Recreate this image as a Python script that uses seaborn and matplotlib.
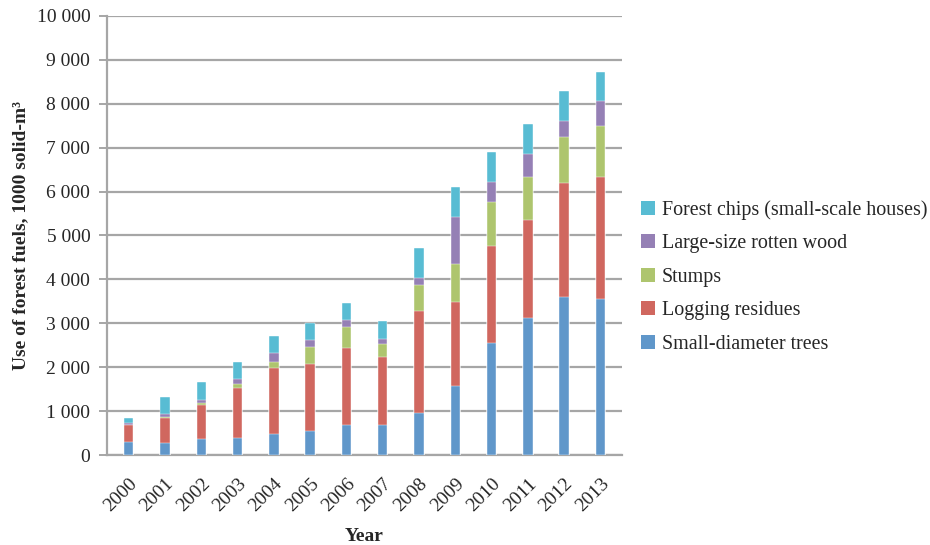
"""Stacked bar chart of forest fuel use by category, 2000-2013."""
import matplotlib
matplotlib.use('Agg')
import matplotlib.pyplot as plt
import numpy as np
import pandas as pd
import seaborn as sns
from matplotlib.patches import Patch
from matplotlib.ticker import FuncFormatter, MultipleLocator

years = ['2000', '2001', '2002', '2003', '2004', '2005', '2006',
         '2007', '2008', '2009', '2010', '2011', '2012', '2013']
small_trees = [300, 265, 355, 395, 480, 555, 685,
               685, 950, 1570, 2545, 3130, 3590, 3545]
logging_residues = [385, 585, 780, 1140, 1510, 1520, 1760,
                    1555, 2330, 1920, 2215, 2225, 2600, 2780]
stumps = [0, 10, 55, 75, 120, 380, 470,
          295, 590, 850, 1010, 970, 1055, 1170]
rotten_wood = [45, 80, 75, 130, 210, 165, 165,
               115, 170, 1085, 455, 540, 370, 555]
chips_houses = [120, 390, 390, 370, 380, 380, 380,
                395, 680, 675, 675, 675, 675, 670]

series = ['Small-diameter trees', 'Logging residues', 'Stumps',
          'Large-size rotten wood', 'Forest chips (small-scale houses)']
colors = ['#6097CA', '#D0675F', '#AEC56E', '#9580B5', '#58BCD3']

df = pd.DataFrame({'Year': years,
                   series[0]: small_trees,
                   series[1]: logging_residues,
                   series[2]: stumps,
                   series[3]: rotten_wood,
                   series[4]: chips_houses})
cum = df[series].cumsum(axis=1)
cum['Year'] = df['Year']

sns.set_style('white')
plt.rcParams['font.family'] = ['Liberation Serif', 'DejaVu Serif']

fig = plt.figure(figsize=(9.3, 5.45), dpi=100)
ax = fig.add_axes([0.115, 0.165, 0.554, 0.806])

# draw the cumulative totals from the top down so each layer shows
for name, color in reversed(list(zip(series, colors))):
    sns.barplot(data=cum, x='Year', y=name, color=color, width=0.26,
                saturation=1, edgecolor='white', linewidth=0.3, ax=ax,
                zorder=3)

ax.set_ylim(0, 10000)
ax.set_xlim(-0.6, len(years) - 0.4)
ax.yaxis.set_major_locator(MultipleLocator(1000))
ax.yaxis.set_major_formatter(
    FuncFormatter(lambda v, _: f'{int(v):,}'.replace(',', ' ')))
ax.grid(axis='y', color='#A6A6A6', linewidth=1.6, zorder=0)
ax.set_axisbelow(True)

for s in ['top', 'right']:
    ax.spines[s].set_visible(False)
for s in ['left', 'bottom']:
    ax.spines[s].set_color('#A6A6A6')
    ax.spines[s].set_linewidth(1.6)

ax.tick_params(axis='y', which='major', left=True, length=6, width=1.4,
               color='#A6A6A6', labelsize=14, pad=6)
ax.tick_params(axis='x', bottom=False, labelsize=14, pad=11)
plt.setp(ax.get_xticklabels(), rotation=45, ha='right',
         rotation_mode='anchor')

ax.set_xlabel('Year', fontsize=14, fontweight='bold', labelpad=9)
ax.set_ylabel('Use of forest fuels, 1000 solid-m³', fontsize=14,
              fontweight='bold', labelpad=5)

handles = [Patch(facecolor=c, edgecolor='none', label=n)
           for n, c in zip(series, colors)][::-1]
fig.legend(handles=handles, loc='center left',
           bbox_to_anchor=(0.670, 0.492), frameon=False, fontsize=14.4,
           handlelength=0.7, handleheight=0.7, handletextpad=0.35,
           labelspacing=0.72)

plt.savefig('out.png', dpi=100)
plt.close()
